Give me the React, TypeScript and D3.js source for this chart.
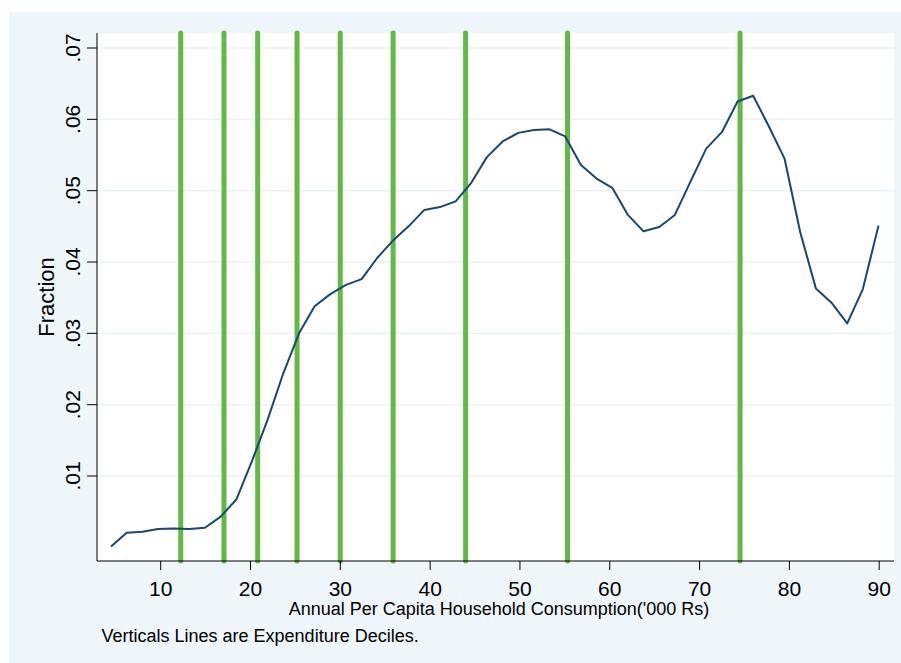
import React from "react";
import * as d3 from "d3";

// Consumption ('000 Rs) at each density point
const consumption = [
  4.47, 6.21, 7.96, 9.7, 11.44, 13.19, 14.93, 16.68, 18.42, 20.16,
  21.91, 23.65, 25.4, 27.14, 28.88, 30.63, 32.37, 34.12, 35.86, 37.6,
  39.35, 41.09, 42.84, 44.58, 46.32, 48.07, 49.81, 51.56, 53.3, 55.04,
  56.79, 58.53, 60.28, 62.02, 63.76, 65.51, 67.25, 69.0, 70.74, 72.48,
  74.23, 75.97, 77.72, 79.46, 81.2, 82.95, 84.69, 86.44, 88.18, 89.92,
];
// Fraction of households
const fraction = [
  0.0001, 0.00205, 0.0022, 0.00257, 0.00264, 0.00257, 0.00275, 0.0043, 0.0067, 0.0121,
  0.0179, 0.0244, 0.03, 0.0338, 0.0355, 0.0368, 0.0376, 0.0406, 0.043, 0.045,
  0.0473, 0.0477, 0.0485, 0.0511, 0.0547, 0.0569, 0.0581, 0.0585, 0.0586, 0.0576,
  0.0536, 0.0517, 0.0504, 0.0466, 0.0443, 0.0449, 0.0466, 0.0513, 0.0559, 0.0582,
  0.0625, 0.0633, 0.059, 0.0545, 0.0442, 0.0363, 0.0343, 0.0314, 0.0362, 0.0451,
];
// Expenditure deciles
const deciles = [12.23, 17.05, 20.8, 25.18, 29.99, 35.88, 43.95, 55.3, 74.51];
const xTicks = [10, 20, 30, 40, 50, 60, 70, 80, 90];
const yTicks = [0.01, 0.02, 0.03, 0.04, 0.05, 0.06, 0.07];
const yTickLabels = [".01", ".02", ".03", ".04", ".05", ".06", ".07"];

const W = 901;
const H = 663;
const plot = { left: 97, right: 894, top: 33, bottom: 561 };

export default function App() {
  const x = d3.scaleLinear().domain([10, 90]).range([160.7, 879.2]);
  const y = d3.scaleLinear().domain([0.01, 0.07]).range([476, 48]);
  const pts: [number, number][] = consumption.map((c, i) => [c, fraction[i]]);
  const line = d3
    .line<[number, number]>()
    .x((d) => x(d[0]))
    .y((d) => y(d[1]));
  const font = "'Liberation Sans', Arial, Helvetica, sans-serif";
  return (
    <svg
      width={W}
      height={H}
      style={{ position: "absolute", left: 0, top: 0, background: "#ffffff" }}
      fontFamily={font}
    >
      <rect x={9} y={12} width={W - 9} height={H - 12} fill="#eef6f9" />
      <rect
        x={plot.left}
        y={plot.top}
        width={plot.right - plot.left}
        height={plot.bottom - plot.top}
        fill="#ffffff"
      />
      {yTicks.map((t) => (
        <line
          key={"g" + t}
          x1={plot.left}
          x2={plot.right}
          y1={y(t)}
          y2={y(t)}
          stroke="#eaf3f6"
          strokeWidth={1.5}
        />
      ))}
      {deciles.map((d) => (
        <line
          key={"d" + d}
          x1={x(d)}
          x2={x(d)}
          y1={plot.top}
          y2={plot.bottom}
          stroke="#63b946"
          strokeWidth={5}
          strokeLinecap="round"
        />
      ))}
      <path d={line(pts) || ""} fill="none" stroke="#1a476f" strokeWidth={2} strokeLinejoin="round" />
      {/* axes */}
      <line x1={plot.left} x2={plot.left} y1={plot.top} y2={plot.bottom} stroke="#000" strokeWidth={1} />
      <line x1={plot.left} x2={plot.right} y1={plot.bottom} y2={plot.bottom} stroke="#000" strokeWidth={1} />
      {xTicks.map((t) => (
        <g key={"x" + t}>
          <line x1={x(t)} x2={x(t)} y1={plot.bottom} y2={plot.bottom + 9} stroke="#000" strokeWidth={1} />
          <text x={x(t)} y={596} fontSize={21} textAnchor="middle" fill="#000">
            {t}
          </text>
        </g>
      ))}
      {yTicks.map((t, i) => (
        <g key={"y" + t}>
          <line x1={plot.left - 10} x2={plot.left} y1={y(t)} y2={y(t)} stroke="#000" strokeWidth={1} />
          <text
            transform={`translate(80,${y(t)}) rotate(-90)`}
            fontSize={21}
            textAnchor="middle"
            fill="#000"
          >
            {yTickLabels[i]}
          </text>
        </g>
      ))}
      <text transform={`translate(54,297) rotate(-90)`} fontSize={22} textAnchor="middle" fill="#000">
        Fraction
      </text>
      <text x={499} y={615} fontSize={18} textAnchor="middle" fill="#000">
        Annual Per Capita Household Consumption('000 Rs)
      </text>
      <text x={101.5} y={641.5} fontSize={18} fill="#000">
        Verticals Lines are Expenditure Deciles.
      </text>
    </svg>
  );
}
